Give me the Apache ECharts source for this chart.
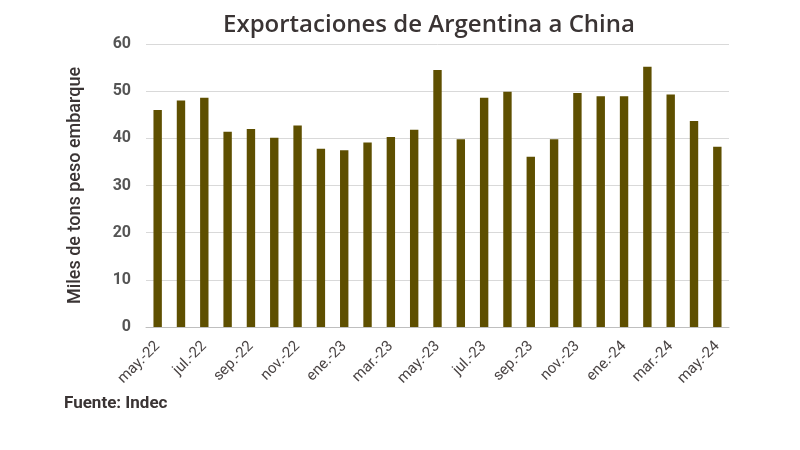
<!DOCTYPE html>
<html>
<head>
<meta charset="utf-8">
<script src="https://cdn.jsdelivr.net/npm/echarts@6/dist/echarts.min.js"></script>
<style>html,body{margin:0;padding:0;background:#fff;}#c{width:800px;height:450px;}</style>
</head>
<body>
<div id="c"></div>
<script>
const categories = ["may.-22","jun.-22","jul.-22","ago.-22","sep.-22","oct.-22","nov.-22","dic.-22","ene.-23","feb.-23","mar.-23","abr.-23","may.-23","jun.-23","jul.-23","ago.-23","sep.-23","oct.-23","nov.-23","dic.-23","ene.-24","feb.-24","mar.-24","abr.-24","may.-24"];
const values = [46.0,48.0,48.6,41.4,42.0,40.1,42.7,37.8,37.5,39.1,40.3,41.8,54.5,39.8,48.6,49.9,36.1,39.8,49.6,48.9,48.9,55.2,49.3,43.7,38.2];
const titleText = "Exportaciones de Argentina a China";
const yAxisName = "Miles de tons peso embarque";
const sourceText = "Fuente: Indec";

const chart = echarts.init(document.getElementById('c'), null, {renderer:'canvas'});
chart.setOption({
  animation:false,
  backgroundColor:'#fff',
  title:{text:titleText,left:424,top:8,textAlign:'center',
    textStyle:{fontFamily:'Open Sans',fontSize:24,fontWeight:600,color:'#3a3434'}},
  graphic:[{type:'text',left:64,top:395,style:{text:sourceText,fontFamily:'Roboto',fontSize:17,fontWeight:'bold',fill:'#3a3434'}}],
  grid:{left:146,right:71,top:44,bottom:123,containLabel:false},
  xAxis:{type:'category',data:categories,
    axisLine:{lineStyle:{color:'#bfbfbf'}},axisTick:{show:false},
    axisLabel:{interval:1,rotate:45,color:'#4a4444',fontFamily:'Roboto',fontSize:15,margin:17}},
  yAxis:{type:'value',min:0,max:60,interval:10,
    name:yAxisName,nameLocation:'middle',nameGap:62,nameRotate:90,
    nameTextStyle:{fontFamily:'Roboto',fontSize:18,color:'#3a3434',fontWeight:'500'},
    axisLabel:{color:'#555',fontFamily:'Roboto',fontSize:16,fontWeight:'bold',margin:15},
    splitLine:{lineStyle:{color:'#d9d9d9'}},axisLine:{show:false},axisTick:{show:false}},
  series:[{type:'bar',data:values,barWidth:'36%',itemStyle:{color:'#5e4f00'}}]
});
</script>
</body>
</html>
